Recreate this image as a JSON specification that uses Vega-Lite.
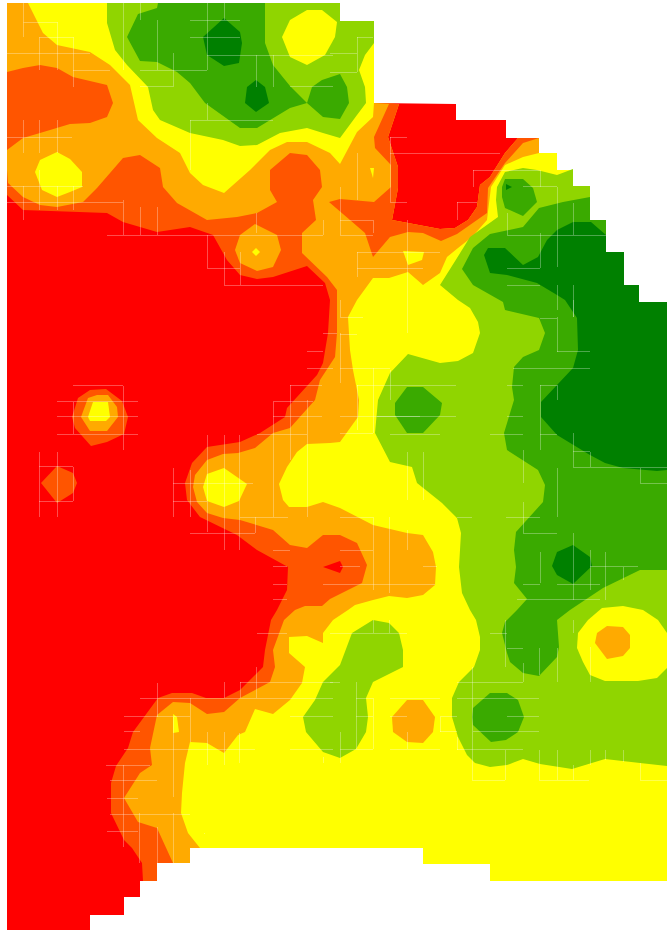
{"$schema":"https://vega.github.io/schema/vega-lite/v6.json","width":660,"height":927,"padding":{"left":7,"top":3,"right":0,"bottom":0},"autosize":"none","background":"white","view":{"stroke":null},
"projection":{"type":"identity"},
"layer":[{
"data":{"values":[
{"type":"Feature","properties":{"band":1},"geometry":{"type":"Polygon","coordinates":[[[7,3],[340,3],[340,21],[374,21],[374,103],[456,104],[456,120],[506,120],[506,138],[539,138],[539,153],[557,153],[557,170],[573,170],[573,186],[590,186],[590,220],[606,220],[606,252],[624,252],[624,285],[639,285],[639,302],[667,302],[667,881],[490,881],[490,864],[423,864],[423,848],[190,848],[190,863],[157,863],[157,881],[140,881],[140,897],[124,897],[124,915],[90,915],[90,930],[7,930],[7,3]]]}},
{"type":"Feature","properties":{"band":2},"geometry":{"type":"Polygon","coordinates":[[[7,195],[23,210],[107,213],[123,222],[157,232],[190,227],[213,235],[227,260],[240,275],[257,279],[273,277],[307,266],[325,283],[330,300],[328,333],[323,363],[317,375],[287,408],[285,417],[260,433],[240,442],[207,447],[192,463],[185,483],[187,500],[200,517],[237,535],[257,550],[288,567],[287,590],[277,610],[271,620],[265,650],[263,667],[240,690],[224,698],[206,698],[192,693],[172,693],[158,698],[133,732],[128,748],[116,766],[111,783],[111,813],[124,840],[132,848],[142,863],[143,881],[157,881],[157,863],[190,863],[190,848],[423,848],[423,864],[490,864],[490,881],[667,881],[667,302],[639,302],[639,285],[624,285],[624,252],[606,252],[606,220],[590,220],[590,186],[573,186],[573,170],[557,170],[557,153],[539,153],[539,138],[518,138],[505,153],[490,177],[480,185],[477,207],[468,220],[455,228],[440,229],[392,220],[398,188],[398,167],[388,137],[399,104],[374,103],[374,21],[340,21],[340,3],[7,3],[7,195]]]}},
{"type":"Feature","properties":{"band":2},"geometry":{"type":"Polygon","coordinates":[[[41,483],[57,466],[73,473],[77,483],[73,493],[57,503],[41,483]]]}},
{"type":"Feature","properties":{"band":2},"geometry":{"type":"Polygon","coordinates":[[[72,417],[78,398],[90,390],[106,389],[122,401],[128,417],[124,434],[107,442],[91,446],[75,428],[72,417]]]}},
{"type":"Feature","properties":{"band":1},"geometry":{"type":"Polygon","coordinates":[[[323,567],[340,561],[343,567],[340,573],[323,567]]]}},
{"type":"Feature","properties":{"band":3},"geometry":{"type":"Polygon","coordinates":[[[7,170],[8,183],[23,197],[40,205],[57,207],[83,202],[97,188],[123,158],[140,155],[160,168],[163,187],[177,203],[207,220],[237,217],[257,213],[277,202],[270,190],[270,170],[290,153],[307,155],[320,170],[322,187],[313,200],[316,220],[302,233],[302,253],[327,277],[337,290],[337,333],[335,357],[320,380],[315,400],[290,428],[273,433],[255,448],[238,453],[223,454],[207,460],[195,475],[193,487],[197,502],[207,513],[223,518],[240,520],[273,530],[290,545],[307,548],[323,535],[340,535],[357,543],[367,565],[362,583],[330,599],[322,606],[305,606],[295,610],[284,620],[273,650],[275,667],[270,682],[240,698],[224,712],[207,714],[190,703],[173,702],[157,715],[150,748],[152,765],[140,773],[124,798],[138,822],[157,828],[173,863],[190,863],[190,848],[423,848],[423,864],[490,864],[490,881],[667,881],[667,302],[639,302],[639,285],[624,285],[624,252],[606,252],[606,220],[590,220],[590,186],[573,186],[573,170],[557,170],[557,153],[539,153],[539,138],[518,138],[505,153],[490,177],[480,185],[477,207],[468,220],[455,228],[440,229],[392,220],[398,188],[398,167],[388,137],[399,104],[374,103],[374,21],[340,21],[340,3],[7,3],[7,170]]]}},
{"type":"Feature","properties":{"band":3},"geometry":{"type":"Polygon","coordinates":[[[235,250],[240,235],[255,224],[277,235],[281,250],[273,267],[257,271],[240,263],[235,250]]]}},
{"type":"Feature","properties":{"band":3},"geometry":{"type":"Polygon","coordinates":[[[81,417],[88,398],[97,395],[108,395],[117,407],[118,417],[107,431],[90,431],[81,417]]]}},
{"type":"Feature","properties":{"band":2},"geometry":{"type":"Polygon","coordinates":[[[7,72],[23,68],[40,65],[57,68],[73,77],[107,85],[113,103],[107,117],[90,123],[70,124],[40,133],[23,138],[7,150],[7,72]]]}},
{"type":"Feature","properties":{"band":2},"geometry":{"type":"Polygon","coordinates":[[[329,202],[340,199],[374,202],[391,187],[391,165],[375,148],[374,137],[389,104],[399,104],[388,137],[398,167],[398,188],[392,220],[440,229],[455,228],[468,220],[477,207],[480,185],[490,177],[505,153],[518,138],[539,138],[523,143],[505,163],[488,188],[487,213],[477,220],[457,234],[441,241],[423,233],[408,232],[390,237],[373,257],[365,233],[350,220],[329,202]]]}},
{"type":"Feature","properties":{"band":4},"geometry":{"type":"Polygon","coordinates":[[[28,3],[43,33],[57,45],[90,52],[110,65],[130,85],[138,120],[157,138],[180,153],[190,173],[203,185],[224,193],[250,170],[270,150],[287,142],[307,142],[330,153],[340,164],[357,132],[373,117],[374,103],[374,21],[340,21],[340,3],[28,3]]]}},
{"type":"Feature","properties":{"band":4},"geometry":{"type":"Polygon","coordinates":[[[539,153],[523,157],[505,165],[491,187],[487,220],[472,237],[458,248],[447,257],[440,273],[423,285],[408,272],[389,278],[373,278],[357,300],[348,317],[350,350],[353,370],[359,400],[358,417],[340,442],[330,443],[307,444],[297,452],[287,467],[279,484],[283,500],[289,507],[307,507],[323,502],[340,508],[373,525],[407,533],[423,535],[433,552],[436,567],[435,585],[423,595],[407,598],[389,596],[373,600],[355,605],[348,610],[333,620],[323,633],[323,643],[307,636],[289,637],[289,653],[305,667],[302,683],[290,700],[273,714],[255,709],[245,732],[238,735],[224,753],[207,743],[190,742],[185,763],[182,793],[181,813],[188,833],[200,848],[423,848],[423,864],[490,864],[490,881],[667,881],[667,302],[639,302],[639,285],[624,285],[624,252],[606,252],[606,220],[590,220],[590,186],[573,186],[573,170],[557,170],[557,153],[539,153]]]}},
{"type":"Feature","properties":{"band":4},"geometry":{"type":"Polygon","coordinates":[[[252,252],[256,248],[260,252],[256,256],[252,252]]]}},
{"type":"Feature","properties":{"band":4},"geometry":{"type":"Polygon","coordinates":[[[88,417],[93,402],[108,402],[110,417],[106,421],[90,421],[88,417]]]}},
{"type":"Feature","properties":{"band":4},"geometry":{"type":"Polygon","coordinates":[[[370,168],[374,168],[373,178],[370,168]]]}},
{"type":"Feature","properties":{"band":4},"geometry":{"type":"Polygon","coordinates":[[[403,251],[424,252],[422,260],[408,265],[403,251]]]}},
{"type":"Feature","properties":{"band":4},"geometry":{"type":"Polygon","coordinates":[[[173,714],[177,717],[179,732],[173,733],[173,714]]]}},
{"type":"Feature","properties":{"band":4},"geometry":{"type":"Polygon","coordinates":[[[57,152],[70,159],[82,172],[82,187],[70,192],[57,197],[42,190],[35,172],[40,160],[57,152]]]}},
{"type":"Feature","properties":{"band":4},"geometry":{"type":"Polygon","coordinates":[[[203,487],[207,474],[224,468],[247,484],[239,501],[224,507],[207,501],[203,487]]]}},
{"type":"Feature","properties":{"band":3},"geometry":{"type":"Polygon","coordinates":[[[392,717],[407,700],[423,700],[435,717],[433,732],[423,743],[407,742],[393,732],[392,717]]]}},
{"type":"Feature","properties":{"band":5},"geometry":{"type":"Polygon","coordinates":[[[107,3],[107,23],[115,50],[127,65],[148,87],[153,110],[160,120],[190,133],[223,140],[240,146],[257,145],[280,133],[307,128],[323,133],[340,138],[357,115],[366,103],[365,87],[359,70],[365,55],[374,43],[374,21],[340,21],[340,3],[107,3]]]}},
{"type":"Feature","properties":{"band":5},"geometry":{"type":"Polygon","coordinates":[[[573,169],[557,175],[537,170],[523,168],[505,172],[497,187],[496,200],[498,217],[470,237],[457,258],[440,285],[458,300],[470,308],[478,322],[480,333],[473,353],[458,361],[440,363],[408,354],[390,373],[378,400],[375,433],[390,462],[412,467],[417,483],[442,503],[457,518],[461,533],[459,567],[462,593],[470,610],[476,620],[480,637],[480,650],[474,667],[459,682],[452,698],[452,717],[458,737],[467,755],[475,763],[490,767],[507,765],[523,759],[540,764],[572,769],[605,759],[640,763],[667,766],[667,302],[639,302],[639,285],[624,285],[624,252],[606,252],[606,220],[590,220],[590,186],[573,186],[573,169]]]}},
{"type":"Feature","properties":{"band":5},"geometry":{"type":"Polygon","coordinates":[[[303,717],[315,700],[323,682],[340,665],[352,633],[373,620],[389,623],[399,633],[403,650],[403,667],[373,682],[366,698],[368,717],[366,732],[356,749],[340,758],[323,752],[306,732],[303,717]]]}},
{"type":"Feature","properties":{"band":4},"geometry":{"type":"Polygon","coordinates":[[[282,37],[290,20],[307,10],[322,10],[337,22],[335,37],[325,55],[307,65],[290,57],[282,37]]]}},
{"type":"Feature","properties":{"band":4},"geometry":{"type":"Polygon","coordinates":[[[577,648],[578,633],[588,620],[602,608],[623,606],[643,610],[658,620],[667,633],[667,668],[657,678],[638,681],[605,681],[590,675],[583,662],[577,648]]]}},
{"type":"Feature","properties":{"band":3},"geometry":{"type":"Polygon","coordinates":[[[595,643],[597,633],[607,626],[623,627],[630,635],[630,648],[623,656],[607,659],[595,643]]]}},
{"type":"Feature","properties":{"band":6},"geometry":{"type":"Polygon","coordinates":[[[158,3],[157,8],[138,14],[127,37],[140,61],[157,62],[177,72],[190,83],[205,103],[240,128],[257,128],[290,108],[307,103],[290,86],[273,65],[265,43],[265,3],[158,3]]]}},
{"type":"Feature","properties":{"band":6},"geometry":{"type":"Polygon","coordinates":[[[307,103],[323,117],[340,119],[349,103],[347,87],[340,74],[322,80],[312,87],[307,103]]]}},
{"type":"Feature","properties":{"band":6},"geometry":{"type":"Polygon","coordinates":[[[590,197],[563,202],[539,208],[523,227],[490,234],[473,248],[462,269],[473,285],[503,302],[505,310],[539,318],[545,333],[539,350],[523,357],[514,367],[512,387],[514,400],[504,433],[507,450],[538,470],[545,485],[543,502],[516,532],[514,550],[516,567],[514,583],[527,599],[517,610],[505,622],[502,633],[507,653],[510,662],[523,673],[539,676],[557,657],[559,647],[557,620],[570,610],[603,588],[640,570],[667,570],[667,302],[639,302],[639,285],[624,285],[624,252],[606,252],[606,220],[590,220],[590,197]]]}},
{"type":"Feature","properties":{"band":6},"geometry":{"type":"Polygon","coordinates":[[[472,717],[473,708],[490,693],[507,693],[518,700],[524,717],[518,732],[506,740],[491,742],[473,725],[472,717]]]}},
{"type":"Feature","properties":{"band":6},"geometry":{"type":"Polygon","coordinates":[[[395,403],[407,387],[423,387],[442,403],[440,415],[423,433],[407,433],[395,415],[395,403]]]}},
{"type":"Feature","properties":{"band":6},"geometry":{"type":"Polygon","coordinates":[[[502,187],[505,179],[523,179],[533,188],[537,202],[523,216],[505,208],[502,197],[502,187]]]}},
{"type":"Feature","properties":{"band":7},"geometry":{"type":"Polygon","coordinates":[[[203,37],[224,18],[240,32],[242,43],[239,63],[224,66],[207,55],[203,37]]]}},
{"type":"Feature","properties":{"band":7},"geometry":{"type":"Polygon","coordinates":[[[245,103],[247,87],[256,80],[265,87],[269,103],[256,112],[245,103]]]}},
{"type":"Feature","properties":{"band":7},"geometry":{"type":"Polygon","coordinates":[[[506,184],[512,187],[506,190],[506,184]]]}},
{"type":"Feature","properties":{"band":7},"geometry":{"type":"Polygon","coordinates":[[[606,235],[591,222],[573,222],[557,230],[547,240],[538,257],[523,265],[505,248],[488,248],[484,255],[490,273],[507,275],[537,283],[557,295],[565,300],[577,318],[578,350],[573,368],[541,402],[541,417],[557,435],[590,455],[605,463],[623,468],[657,471],[667,470],[667,302],[639,302],[639,285],[624,285],[624,252],[606,252],[606,235]]]}},
{"type":"Feature","properties":{"band":7},"geometry":{"type":"Polygon","coordinates":[[[552,566],[557,552],[573,545],[590,557],[592,566],[573,584],[557,575],[552,566]]]}}
]},
"mark":{"type":"geoshape","strokeWidth":0},
"encoding":{"color":{"field":"properties.band","type":"ordinal","legend":null,"scale":{"domain":[1,2,3,4,5,6,7],"range":["#ff0000","#ff5500","#ffaa00","#ffff00","#90d500","#3aaa00","#008000"]}}}
},{
"data":{"values":[{"type":"Feature","properties":{"kind":"seam"},"geometry":{"type":"MultiLineString","coordinates":[
[[23.5,3],[23.5,37]],[[23.5,22.5],[57.5,22.5]],[[57.5,22],[57.5,70]],[[39.5,37.5],[73.5,37.5]],[[39.5,37],[39.5,70]],[[7,53.5],[90,53.5]],[[73.5,37],[73.5,87]],[[73,70.5],[110,70.5]],[[123.5,3],[123.5,70]],[[140.5,3],[140.5,20]],[[157.5,20],[157.5,70]],[[190,20.5],[240,20.5]],[[207.5,3],[207.5,70]],[[224.5,3],[224.5,20]],[[190,37.5],[240,37.5]],[[140,70.5],[207,70.5]],[[140,86.5],[173,86.5]],[[173.5,53],[173.5,87]],[[207,55.5],[333,55.5]],[[256.5,55],[256.5,87]],[[273.5,55],[273.5,87]],[[290,86.5],[333,86.5]],
[[190.5,120],[190.5,170]],[[190,120.5],[273,120.5]],[[207.5,103],[207.5,120]],[[23.5,120],[23.5,153]],[[39.5,120],[39.5,153]],[[57.5,120],[57.5,153]],[[7,137.5],[72,137.5]],[[23.5,186],[23.5,220]],[[7,186.5],[83,186.5]],[[7,202.5],[123,202.5]],[[39.5,170],[39.5,210]],[[57.5,186],[57.5,210]],[[73.5,186],[73.5,210]],[[123.5,200],[123.5,235]],[[140.5,207],[140.5,235]],[[157.5,207],[157.5,235]],[[107,235.5],[323,235.5]],[[207.5,235],[207.5,268]],[[207,268.5],[240,268.5]],[[224.5,252],[224.5,285]],[[224,285.5],[323,285.5]],[[240.5,252],[240.5,285]],[[256.5,213],[256.5,233]],[[323.5,220],[323.5,235]],
[[330,72.5],[357,72.5]],[[357.5,37],[357.5,72]],[[357,37.5],[373,37.5]],[[330,53.5],[357,53.5]],[[357.5,153],[357.5,200]],[[340.5,187],[340.5,235]],[[340,220.5],[373,220.5]],[[340,235.5],[373,235.5]],[[373.5,220],[373.5,233]],[[407.5,220],[407.5,333]],[[357,252.5],[440,252.5]],[[357.5,252],[357.5,277]],[[357,268.5],[423,268.5]],[[390.5,137],[390.5,202]],[[390,137.5],[407,137.5]],[[390,153.5],[500,153.5]],[[390,202.5],[407,202.5]],[[473,170.5],[540,170.5]],[[473.5,170],[473.5,187]],[[523,186.5],[557,186.5]],[[540.5,170],[540.5,187]],[[457.5,202],[457.5,220]],[[457,202.5],[477,202.5]],[[507.5,213],[507.5,235]],[[507,235.5],[606,235.5]],[[573.5,203],[573.5,235]],[[557.5,187],[557.5,267]],[[507,268.5],[540,268.5]],[[540.5,233],[540.5,268]],[[557.5,285],[557.5,310]],[[573.5,285],[573.5,317]],[[507,285.5],[540,285.5]],
[[73,385.5],[123,385.5]],[[57,401.5],[138,401.5]],[[57,416.5],[138,416.5]],[[57,434.5],[138,434.5]],[[73.5,402],[73.5,434]],[[123.5,386],[123.5,450]],[[39.5,452],[39.5,517]],[[57.5,452],[57.5,517]],[[39,466.5],[73,466.5]],[[39,501.5],[73,501.5]],[[73.5,467],[73.5,501]],[[173.5,468],[173.5,517]],[[173,501.5],[207,501.5]],[[190.5,470],[190.5,517]],[[207.5,435],[207.5,532]],[[224.5,435],[224.5,550]],[[239.5,435],[239.5,550]],[[173,483.5],[253,483.5]],[[240,517.5],[288,517.5]],[[190,533.5],[255,533.5]],[[255.5,517],[255.5,533]],[[257,434.5],[307,434.5]],[[273,416.5],[322,416.5]],[[273,401.5],[313,401.5]],[[273.5,402],[273.5,517]],[[290.5,385],[290.5,460]],[[307.5,400],[307.5,517]],[[290,385.5],[322,385.5]],[[307,368.5],[333,368.5]],[[307,351.5],[323,351.5]],[[323,333.5],[337,333.5]],[[273,550.5],[290,550.5]],[[273,566.5],[287,566.5]],[[273,584.5],[287,584.5]],[[273,599.5],[287,599.5]],[[323,584.5],[340,584.5]],
[[340.5,300],[340.5,317]],[[340,317.5],[363,317.5]],[[340,334.5],[357,334.5]],[[340.5,333],[340.5,383]],[[357.5,385],[357.5,430]],[[357,385.5],[390,385.5]],[[340,368.5],[390,368.5]],[[390.5,370],[390.5,400]],[[373.5,368],[373.5,433]],[[340,433.5],[373,433.5]],[[340,416.5],[420,416.5]],[[390,385.5],[456,385.5]],[[377,416.5],[456,416.5]],[[390,434.5],[440,434.5]],[[407.5,452],[407.5,500]],[[423.5,452],[423.5,500]],[[340,517.5],[373,517.5]],[[373.5,517],[373.5,590]],[[389.5,517],[389.5,593]],[[407.5,530],[407.5,550]],[[340,550.5],[373,550.5]],[[340,566.5],[360,566.5]],[[340,584.5],[435,584.5]],[[423,566.5],[437,566.5]],[[457,517.5],[472,517.5]],[[506,517.5],[540,517.5]],[[523.5,450],[523.5,483]],[[523.5,502],[523.5,533]],[[523,533.5],[557,533.5]],[[540.5,552],[540.5,583]],[[523,584.5],[540,584.5]],[[490,434.5],[523,434.5]],[[507,416.5],[523,416.5]],[[507,385.5],[523,385.5]],[[513,368.5],[590,368.5]],[[540.5,385],[540.5,450]],[[540,385.5],[557,385.5]],[[557.5,317],[557.5,352]],[[557.5,385],[557.5,400]],[[557.5,468],[557.5,517]],[[540,318.5],[557,318.5]],[[557,351.5],[590,351.5]],[[540,434.5],[557,434.5]],[[573.5,433],[573.5,467]],[[590.5,452],[590.5,467]],[[573,451.5],[590,451.5]],[[573,467.5],[667,467.5]],[[640,483.5],[667,483.5]],[[640.5,468],[640.5,483]],[[573.5,300],[573.5,317]],[[573.5,533],[573.5,600]],[[590.5,550],[590.5,590]],[[605.5,552],[605.5,600]],[[590,566.5],[638,566.5]],[[623.5,567],[623.5,580]],[[517,599.5],[600,599.5]],[[557,584.5],[600,584.5]],
[[257,633.5],[287,633.5]],[[256.5,667],[256.5,698]],[[240,682.5],[333,682.5]],[[240.5,682],[240.5,698]],[[224.5,682],[224.5,698]],[[157.5,683],[157.5,717]],[[140,698.5],[333,698.5]],[[124,716.5],[190,716.5]],[[124,731.5],[140,731.5]],[[190.5,698],[190.5,742]],[[173.5,717],[173.5,797]],[[124,749.5],[255,749.5]],[[207.5,732],[207.5,765]],[[224.5,732],[224.5,765]],[[239.5,733],[239.5,763]],[[106,765.5],[150,765.5]],[[110,780.5],[157,780.5]],[[107,798.5],[138,798.5]],[[110,814.5],[190,814.5]],[[107,831.5],[138,831.5]],[[123.5,765],[123.5,847]],[[139.5,813],[139.5,863]],[[157.5,827],[157.5,863]],[[173.5,813],[173.5,863]],[[290,716.5],[333,716.5]],[[290,749.5],[333,749.5]],[[323.5,757],[323.5,763]],[[204,833.5],[205,833.5]],
[[330,633.5],[407,633.5]],[[373.5,620],[373.5,633]],[[389.5,620],[389.5,633]],[[330,682.5],[340,682.5]],[[356.5,682],[356.5,749]],[[356,698.5],[373,698.5]],[[356,716.5],[373,716.5]],[[340,749.5],[373,749.5]],[[373.5,698],[373.5,749]],[[340.5,732],[340.5,763]],[[390,698.5],[440,698.5]],[[390,716.5],[407,716.5]],[[390,749.5],[440,749.5]],[[440.5,717],[440.5,732]],[[440,716.5],[457,716.5]],[[440,731.5],[457,731.5]],[[407.5,732],[407.5,749]],[[472.5,667],[472.5,780]],[[457,682.5],[523,682.5]],[[523.5,663],[523.5,682]],[[490,633.5],[507,633.5]],[[507,648.5],[523,648.5]],[[505.5,620],[505.5,667]],[[539.5,648],[539.5,675]],[[557.5,648],[557.5,682]],[[590.5,647],[590.5,682]],[[573.5,620],[573.5,633]],[[457,698.5],[539,698.5]],[[507,716.5],[539,716.5]],[[473,731.5],[539,731.5]],[[457,749.5],[523,749.5]],[[505.5,750],[505.5,780]],[[539.5,750],[539.5,780]],[[557.5,750],[557.5,780]],[[573.5,765],[573.5,780]],[[590.5,750],[590.5,765]],[[605.5,750],[605.5,760]],[[623.5,750],[623.5,762]],[[640.5,763],[640.5,780]],[[472,780.5],[505,780.5]],[[539,780.5],[589,780.5]],[[640,780.5],[667,780.5]],[[457.5,750],[457.5,737]]
]}}]},
"mark":{"type":"geoshape","filled":false,"stroke":"#ffffff","strokeWidth":1,"strokeOpacity":0.3}
}]}
